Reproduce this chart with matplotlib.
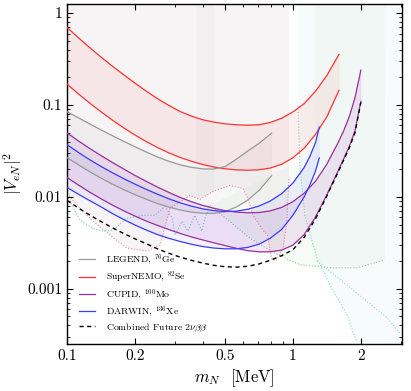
import matplotlib
matplotlib.use("Agg")
import matplotlib.pyplot as plt
import matplotlib.ticker as mticker
import numpy as np

plt.rcParams["font.family"] = "cmr10"
plt.rcParams["mathtext.fontset"] = "cm"
plt.rcParams["axes.formatter.use_mathtext"] = True

# Axis ranges
xmin, xmax = 0.1, 3.04
ymin, ymax = 2.5e-4, 1.26

# --- future 2vbb sensitivity bands: m_N in MeV, log10 |V_eN|^2 ---
# LEGEND, 76Ge
ge_m = [0.1, 0.1122, 0.1259, 0.1413, 0.1585, 0.1778, 0.1995, 0.2239, 0.2512, 0.2818,
        0.3162, 0.3548, 0.3981, 0.4467, 0.5012, 0.5623, 0.631, 0.7079, 0.805]
ge_up = [-1.072, -1.139, -1.205, -1.27, -1.333, -1.394, -1.453, -1.51, -1.565, -1.612,
         -1.65, -1.678, -1.695, -1.697, -1.67, -1.59, -1.50, -1.418, -1.306]
ge_lo = [-1.573, -1.65, -1.725, -1.795, -1.86, -1.92, -1.975, -2.025, -2.072, -2.11,
         -2.142, -2.165, -2.178, -2.18, -2.16, -2.11, -2.035, -1.93, -1.77]

# SuperNEMO, 82Se
se_m = [0.1, 0.1122, 0.1259, 0.1413, 0.1585, 0.1778, 0.1995, 0.2239, 0.2512, 0.2818,
        0.3162, 0.3548, 0.3981, 0.4467, 0.5012, 0.5623, 0.631, 0.7079, 0.7943, 0.8913,
        1.0, 1.122, 1.259, 1.413, 1.6]
se_up = [-0.155, -0.267, -0.375, -0.477, -0.575, -0.669, -0.76, -0.847, -0.93, -1.003,
         -1.07, -1.12, -1.16, -1.186, -1.205, -1.215, -1.22, -1.215, -1.19, -1.145,
         -1.075, -0.985, -0.85, -0.68, -0.449]
se_lo = [-0.773, -0.878, -0.978, -1.073, -1.163, -1.247, -1.325, -1.397, -1.462, -1.52,
         -1.57, -1.612, -1.647, -1.675, -1.694, -1.706, -1.71, -1.705, -1.686, -1.645,
         -1.575, -1.47, -1.32, -1.13, -0.84]

# CUPID, 100Mo
mo_m = [0.1, 0.1122, 0.1259, 0.1413, 0.1585, 0.1778, 0.1995, 0.2239, 0.2512, 0.2818,
        0.3162, 0.3548, 0.3981, 0.4467, 0.5012, 0.5623, 0.631, 0.7079, 0.7943, 0.8913,
        1.0, 1.122, 1.259, 1.413, 1.585, 1.679, 1.778, 1.884, 2.0]
mo_up = [-1.303, -1.39, -1.472, -1.55, -1.624, -1.695, -1.765, -1.83, -1.893, -1.95,
         -2.005, -2.052, -2.092, -2.124, -2.15, -2.166, -2.173, -2.17, -2.152, -2.115,
         -2.052, -1.96, -1.83, -1.645, -1.41, -1.28, -1.125, -0.92, -0.62]
mo_lo = [-1.789, -1.87, -1.948, -2.02, -2.088, -2.15, -2.208, -2.262, -2.31, -2.355,
         -2.397, -2.435, -2.468, -2.5, -2.53, -2.56, -2.585, -2.598, -2.597, -2.58,
         -2.525, -2.41, -2.22, -1.98, -1.72, -1.585, -1.45, -1.28, -0.96]

# DARWIN, 136Xe
xe_m = [0.1, 0.1122, 0.1259, 0.1413, 0.1585, 0.1778, 0.1995, 0.2239, 0.2512, 0.2818,
        0.3162, 0.3548, 0.3981, 0.4467, 0.5012, 0.5623, 0.631, 0.7079, 0.7943, 0.8913,
        1.0, 1.122, 1.189, 1.259, 1.309]
xe_up = [-1.432, -1.515, -1.595, -1.668, -1.736, -1.8, -1.86, -1.917, -1.97, -2.02,
         -2.064, -2.1, -2.13, -2.15, -2.16, -2.155, -2.135, -2.1, -2.045, -1.965,
         -1.85, -1.68, -1.56, -1.41, -1.24]
xe_lo = [-1.897, -1.97, -2.04, -2.108, -2.18, -2.245, -2.305, -2.36, -2.41, -2.45,
         -2.485, -2.515, -2.54, -2.557, -2.565, -2.565, -2.55, -2.515, -2.45, -2.355,
         -2.2, -2.0, -1.87, -1.72, -1.576]

# Combined future 2vbb
comb_m = [0.1, 0.1122, 0.1259, 0.1413, 0.1585, 0.1778, 0.1995, 0.2239, 0.2512, 0.2818,
          0.3162, 0.3548, 0.3981, 0.4467, 0.5012, 0.5623, 0.631, 0.7079, 0.7943, 0.8913,
          1.0, 1.122, 1.259, 1.413, 1.585, 1.778, 1.884, 2.0]
comb_lv = [-2.038, -2.12, -2.197, -2.268, -2.335, -2.397, -2.455, -2.508, -2.565, -2.613,
           -2.655, -2.69, -2.72, -2.745, -2.76, -2.765, -2.755, -2.73, -2.69, -2.64,
           -2.575, -2.44, -2.24, -1.99, -1.73, -1.465, -1.30, -0.97]

# --- existing constraints (dotted boundaries), |V_eN|^2 ---
pink_m = [0.1, 0.114, 0.129, 0.155, 0.184, 0.226, 0.258, 0.286, 0.35, 0.388, 0.443, 0.526,
          0.601, 0.632, 0.666, 0.736, 0.775, 0.807, 0.849, 0.904, 0.94, 0.96]
pink_v = [0.0109, 0.0075, 0.00557, 0.00384, 0.00277, 0.00258, 0.00299, 0.0075, 0.0104, 0.0094,
          0.0115, 0.0133, 0.0124, 0.00964, 0.0063, 0.00435, 0.00374, 0.00206, 0.00206, 0.00277,
          0.00517, 0.0158]
teal_m = [0.1, 0.114, 0.13, 0.144, 0.16, 0.184, 0.217, 0.245, 0.272, 0.292, 0.301, 0.323,
          0.343, 0.368, 0.395, 0.408, 0.43]
teal_v = [0.0104, 0.00557, 0.00456, 0.00424, 0.00435, 0.00586, 0.0063, 0.0063, 0.00789, 0.00586,
          0.00384, 0.00543, 0.00424, 0.0063, 0.00424, 0.00586, 0.00809]
green_m = [0.43, 0.645, 0.83, 1.074, 1.5, 1.92, 2.55]
green_v = [0.00809, 0.00356, 0.00245, 0.00182, 0.00169, 0.00169, 0.00206]
cyan_m = [1.052, 1.074, 1.129, 1.277, 1.458, 1.733, 1.92]
cyan_v = [0.0975, 0.0219, 0.0063, 0.00216, 0.0011, 0.000524, 0.00026]
cyan2_m = [1.277, 1.79, 2.61, 3.0]
cyan2_v = [0.00201, 0.00103, 0.000486, 0.000319]


def lin(logs):
    return list(10.0 ** np.array(logs))


fig = plt.figure(figsize=(4.11, 3.91), dpi=100)
ax = fig.add_axes([0.163, 0.12, 0.815, 0.87])
ax.set_xscale("log")
ax.set_yscale("log")

# background regions
ax.fill(pink_m + [0.96, 0.1], pink_v + [ymax, ymax], color="#f7f4f5", lw=0, zorder=0)
ax.fill([0.375, 0.45, 0.45, 0.375], [0.0094, 0.0115, ymax, ymax], color="#000000", alpha=0.02, lw=0, zorder=0)
ax.fill(cyan_m + [xmax, xmax, 1.052], cyan_v + [ymin, ymax, ymax], color="#7fc8c0", alpha=0.06, lw=0, zorder=0)
ax.fill(green_m + [2.57, 1.25, 1.25], green_v + [ymax, ymax, 0.03], color="#6fbf7f", alpha=0.05, lw=0, zorder=0)

ax.plot(pink_m, pink_v, ls=":", color="#f08a9a", lw=0.8, zorder=1)
ax.plot(teal_m, teal_v, ls=":", color="#7ccdc8", lw=0.8, zorder=1)
ax.plot(green_m, green_v, ls=":", color="#8ccf9a", lw=0.8, zorder=1)
ax.plot(cyan_m, cyan_v, ls=":", color="#8dd5c9", lw=0.8, zorder=1)
ax.plot(cyan2_m, cyan2_v, ls=":", color="#9adbd6", lw=0.8, zorder=1)

experiments = [
    (se_m, se_up, se_lo, "#ff3333", 0.07, r"SuperNEMO, $^{82}$Se"),
    (ge_m, ge_up, ge_lo, "#999999", 0.08, r"LEGEND, $^{76}$Ge"),
    (mo_m, mo_up, mo_lo, "#9b2f9e", 0.10, r"CUPID, $^{100}$Mo"),
    (xe_m, xe_up, xe_lo, "#3b3bff", 0.06, r"DARWIN, $^{136}$Xe"),
]
lines = {}
for m, up, lo, c, a, lab in experiments:
    up_v, lo_v = lin(up), lin(lo)
    ax.fill(m + m[::-1], up_v + lo_v[::-1], color=c, alpha=a, lw=0.5, zorder=2)
    lines[lab] = ax.plot(m, up_v, color=c, lw=0.9, zorder=3)[0]
    ax.plot(m, lo_v, color=c, lw=0.9, zorder=3)

comb_line = ax.plot(comb_m, lin(comb_lv), color="black", lw=1.0, ls=(0, (3, 2.5)), zorder=4)[0]

ax.set_xlim(xmin, xmax)
ax.set_ylim(ymin, ymax)

ax.xaxis.set_major_locator(mticker.FixedLocator([0.1, 0.2, 0.5, 1, 2]))
ax.xaxis.set_major_formatter(mticker.FixedFormatter(["0.1", "0.2", "0.5", "1", "2"]))
ax.xaxis.set_minor_locator(mticker.FixedLocator([0.3, 0.4, 0.6, 0.7, 0.8, 0.9, 3]))
ax.xaxis.set_minor_formatter(mticker.NullFormatter())
ax.yaxis.set_major_locator(mticker.FixedLocator([0.001, 0.01, 0.1, 1]))
ax.yaxis.set_major_formatter(mticker.FixedFormatter(["0.001", "0.01", "0.1", "1"]))
ax.yaxis.set_minor_locator(mticker.LogLocator(base=10, subs=np.arange(2, 10), numticks=20))
ax.yaxis.set_minor_formatter(mticker.NullFormatter())
ax.tick_params(which="both", direction="in", top=True, right=True, labelsize=11)
ax.tick_params(which="major", length=4.5, width=0.8)
ax.tick_params(which="minor", length=2.5, width=0.6)
for s in ax.spines.values():
    s.set_linewidth(1.0)

ax.set_xlabel(r"$m_N$  [MeV]", fontsize=12, labelpad=3)
ax.set_ylabel(r"$|V_{eN}|^2$", fontsize=12, labelpad=2)

order = [r"LEGEND, $^{76}$Ge", r"SuperNEMO, $^{82}$Se", r"CUPID, $^{100}$Mo", r"DARWIN, $^{136}$Xe"]
handles = [lines[k] for k in order] + [comb_line]
labels = order + [r"Combined Future $2\nu\beta\beta$"]
ax.legend(handles, labels, loc="lower left", bbox_to_anchor=(0.01, 0.005), frameon=False, fontsize=7,
          handlelength=1.6, handletextpad=1.2, labelspacing=0.22)

fig.savefig("out.png", dpi=100)
